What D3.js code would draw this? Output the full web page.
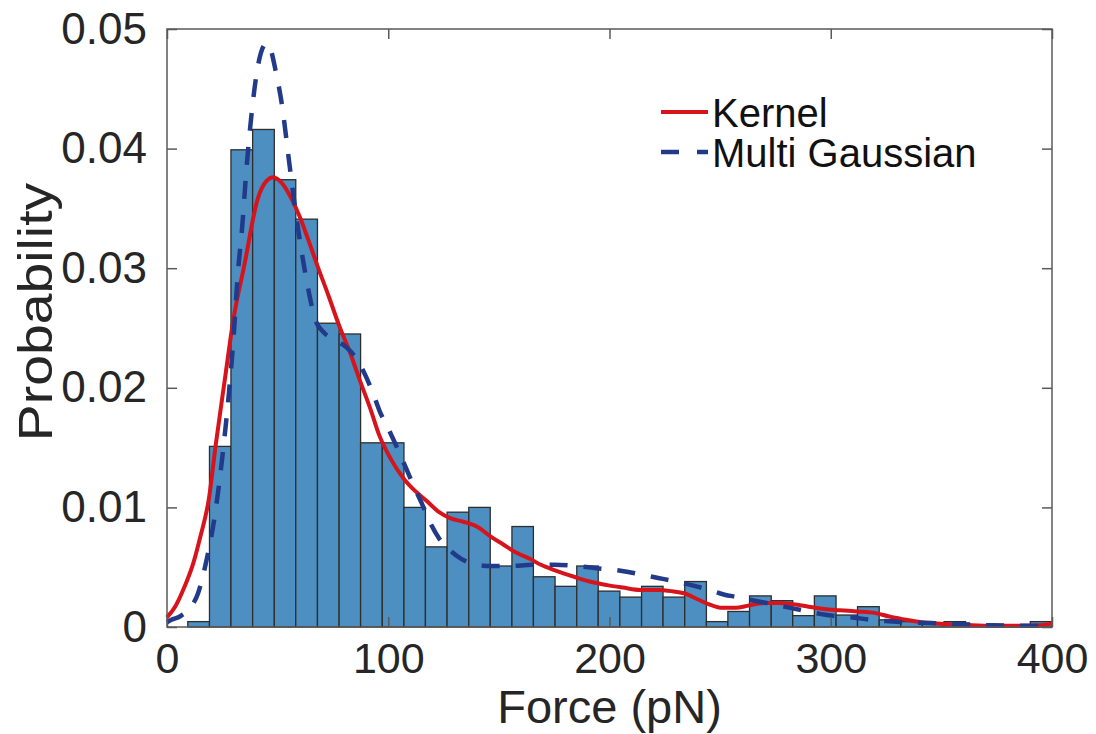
<!DOCTYPE html>
<html><head><meta charset="utf-8">
<script src="https://cdn.jsdelivr.net/npm/d3@7"></script>
<style>body{margin:0;background:#fff}</style>
</head><body>
<svg id="c" width="1096" height="734"></svg>
<script>
// Histogram bins (force, pN) and probabilities
const binEdges = [9.4, 19.2, 28.9, 38.7, 48.5, 58.2, 68.0, 77.8, 87.5, 97.3, 107.1, 116.8, 126.6, 136.4, 146.1, 155.9, 165.6, 175.4, 185.2, 194.9, 204.7, 214.5, 224.2, 234.0, 243.8, 253.5, 263.3, 273.1, 282.8, 292.6, 302.4, 312.1, 321.9, 331.7, 341.4, 351.2, 360.9, 370.7, 380.5, 390.2, 400];
const probabilities = [0.00045, 0.0151, 0.0399, 0.0416, 0.0374, 0.0341, 0.0254, 0.0245, 0.0154, 0.0154, 0.0100, 0.0067, 0.0096, 0.0100, 0.0051, 0.0084, 0.0042, 0.0034, 0.0051, 0.0030, 0.0025, 0.0034, 0.0025, 0.0038, 0.00045, 0.0013, 0.0026, 0.0022, 0.00095, 0.0026, 0.0010, 0.0017, 0.0006, 0.00045, 0.0003, 0.00045, 0.0001, 0.0001, 0.0001, 0.00045];

// Kernel density estimate
const kernelForce = [0, 4, 8, 12, 15, 19, 22, 26, 30, 35, 41, 45, 48, 52, 56, 60, 64, 68, 73, 78, 83, 87, 92, 96, 101, 107, 112, 117, 123, 128, 134, 141, 146, 152, 158, 164, 169, 176, 184, 191, 199, 206, 214, 222, 228, 234, 240, 245, 251, 257, 263, 270, 276, 283, 290, 297, 304, 312, 319, 326, 334, 341, 348, 356, 364, 375, 387, 395, 400];
const kernelProb = [0.0008, 0.0018, 0.0034, 0.0054, 0.0075, 0.0108, 0.0152, 0.0205, 0.0257, 0.0303, 0.0358, 0.0373, 0.0376, 0.0371, 0.0359, 0.0343, 0.0323, 0.0302, 0.0277, 0.0251, 0.0228, 0.0207, 0.0182, 0.0160, 0.0141, 0.0124, 0.0114, 0.0106, 0.0096, 0.0091, 0.0088, 0.0083, 0.0076, 0.0069, 0.0062, 0.0057, 0.0052, 0.0047, 0.0042, 0.0038, 0.0035, 0.0033, 0.0031, 0.0031, 0.0030, 0.0028, 0.0023, 0.0019, 0.0016, 0.0016, 0.0018, 0.0020, 0.0020, 0.0019, 0.0017, 0.0015, 0.0014, 0.0013, 0.0012, 0.0009, 0.0006, 0.0004, 0.0003, 0.0002, 0.00015, 0.0001, 0.0001, 0.00015, 0.0003];

// Multi Gaussian fit
const gaussForce = [0, 2, 6, 10, 14, 18, 22, 25, 28, 30, 32, 34, 36, 38, 41, 43, 45, 47, 49, 52, 55, 58, 61, 64, 67, 71, 75, 81, 85, 89, 93, 96, 100, 104, 108, 111, 115, 119, 123, 128, 133, 138, 146, 155, 165, 175, 185, 195, 205, 214, 222, 230, 237, 245, 252, 258, 263, 271, 279, 287, 295, 303, 310, 318, 325, 333, 340, 350, 360, 373, 388, 400];
const gaussProb = [0.0004, 0.0006, 0.0009, 0.0015, 0.0028, 0.0057, 0.0098, 0.0142, 0.0196, 0.0240, 0.0295, 0.0335, 0.0385, 0.0425, 0.0468, 0.0483, 0.0488, 0.0482, 0.0466, 0.0436, 0.0392, 0.0349, 0.0312, 0.0281, 0.0257, 0.0246, 0.0241, 0.0234, 0.0226, 0.0213, 0.0196, 0.0181, 0.0166, 0.0150, 0.0133, 0.0120, 0.0104, 0.0087, 0.0074, 0.0064, 0.0057, 0.0053, 0.0051, 0.0051, 0.0052, 0.0052, 0.0051, 0.0049, 0.0047, 0.0044, 0.0041, 0.0038, 0.0035, 0.0031, 0.0027, 0.0025, 0.0023, 0.0020, 0.0017, 0.0014, 0.0011, 0.0009, 0.0008, 0.0006, 0.0005, 0.0004, 0.00035, 0.0003, 0.00022, 0.00014, 0.0001, 0.0001];

const xTickValues = [0, 100, 200, 300, 400];
const xTickLabels = ["0", "100", "200", "300", "400"];
const yTickValues = [0, 0.01, 0.02, 0.03, 0.04, 0.05];
const yTickLabels = ["0", "0.01", "0.02", "0.03", "0.04", "0.05"];
const legendLabels = ["Kernel", "Multi Gaussian"];
const xLabel = "Force (pN)";
const yLabel = "Probability";

const W = 1096, H = 734;
const m = {left: 167, right: 44, top: 29, bottom: 107};
const iw = W - m.left - m.right, ih = H - m.top - m.bottom;
const font = "'Liberation Sans', Arial, Helvetica, sans-serif";
const textColor = "#262626", axisColor = "#5a5a5a";
const barFill = "#4d8fc1", barStroke = "#2e2e2e";
const red = "#d7141c", blue = "#213a8a";

const svg = d3.select("#c");
const g = svg.append("g").attr("transform", `translate(${m.left},${m.top})`);
const x = d3.scaleLinear().domain([0, 400]).range([0, iw]);
const y = d3.scaleLinear().domain([0, 0.05]).range([ih, 0]);

// bars
g.append("g").selectAll("rect").data(probabilities).join("rect")
  .attr("x", (d, i) => x(binEdges[i]))
  .attr("width", (d, i) => x(binEdges[i + 1]) - x(binEdges[i]))
  .attr("y", d => y(d))
  .attr("height", d => y(0) - y(d))
  .attr("fill", barFill).attr("stroke", barStroke).attr("stroke-width", 1.3);

// curves
const kernelData = kernelForce.map((f, i) => [f, kernelProb[i]]);
const gaussData = gaussForce.map((f, i) => [f, gaussProb[i]]);
const line = d3.line().x(d => x(d[0])).y(d => y(d[1])).curve(d3.curveMonotoneX);
g.append("path").datum(kernelData).attr("d", line)
  .attr("fill", "none").attr("stroke", red).attr("stroke-width", 4).attr("stroke-linejoin", "round");
g.append("path").datum(gaussData).attr("d", line)
  .attr("fill", "none").attr("stroke", blue).attr("stroke-width", 4.5).attr("stroke-dasharray", "18,16");

// axes (box with inward ticks)
function styleAxis(sel, size) {
  sel.select(".domain").remove();
  sel.selectAll(".tick line").attr("stroke", axisColor).attr("stroke-width", 1.5);
  sel.selectAll("text").attr("fill", textColor).style("font-family", font).style("font-size", size + "px");
}
const ax = g.append("g").attr("transform", `translate(0,${ih})`)
  .call(d3.axisBottom(x).tickValues(xTickValues).tickFormat((d, i) => xTickLabels[i]).tickSizeInner(-10).tickPadding(15));
styleAxis(ax, 43);
ax.selectAll("text").attr("dy", "0.72em");
const axT = g.append("g").call(d3.axisTop(x).tickValues(xTickValues).tickFormat("").tickSizeInner(-10));
styleAxis(axT, 43);
const ay = g.append("g")
  .call(d3.axisLeft(y).tickValues(yTickValues).tickFormat((d, i) => yTickLabels[i]).tickSizeInner(-10).tickPadding(20));
styleAxis(ay, 44);
const ayR = g.append("g").attr("transform", `translate(${iw},0)`)
  .call(d3.axisRight(y).tickValues(yTickValues).tickFormat("").tickSizeInner(-10));
styleAxis(ayR, 44);

g.append("rect").attr("x", 0).attr("y", 0).attr("width", iw).attr("height", ih)
  .attr("fill", "none").attr("stroke", axisColor).attr("stroke-width", 1.5);

// axis labels
svg.append("text").attr("x", m.left + iw / 2).attr("y", 723).attr("text-anchor", "middle")
  .attr("fill", textColor).style("font-family", font).style("font-size", "47px").text(xLabel);
svg.append("text").attr("transform", `translate(52,312) rotate(-90) scale(1.13,1)`).attr("text-anchor", "middle")
  .attr("fill", textColor).style("font-family", font).style("font-size", "49px").text(yLabel);

// legend
const legend = svg.append("g");
const legendColors = [red, blue];
const legendDash = [null, "18,18"];
legendLabels.forEach((lab, i) => {
  const ly = 112 + i * 40;
  legend.append("line").attr("x1", 661).attr("x2", 708).attr("y1", ly).attr("y2", ly)
    .attr("stroke", legendColors[i]).attr("stroke-width", i ? 4.5 : 4).attr("stroke-dasharray", legendDash[i]);
  legend.append("text").attr("x", 712).attr("y", ly + 15).attr("fill", "#111")
    .style("font-family", font).style("font-size", "40px").text(lab);
});
</script>
</body></html>
